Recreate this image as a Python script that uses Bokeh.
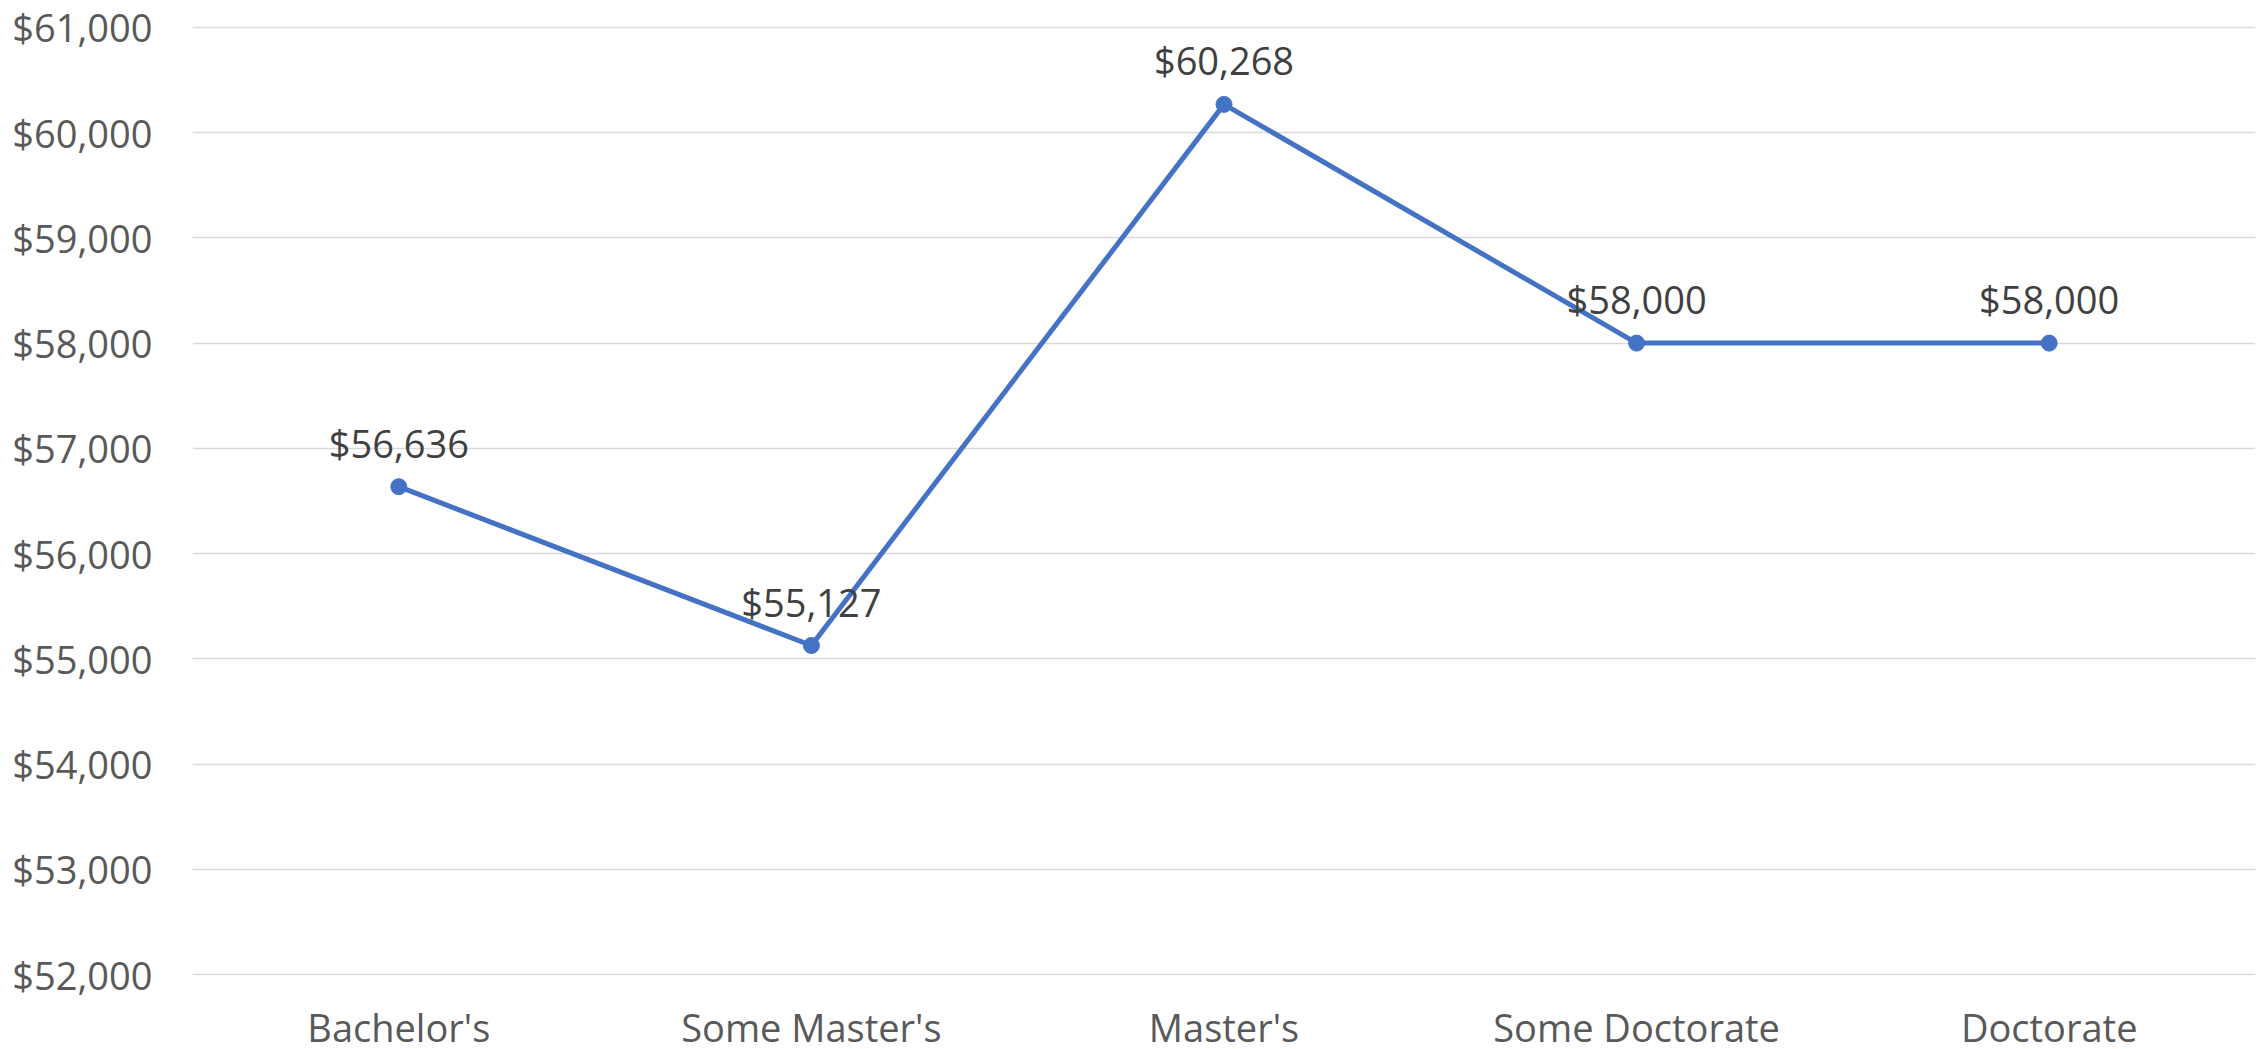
from bokeh.plotting import figure
from bokeh.models import ColumnDataSource, FixedTicker, NumeralTickFormatter, Range1d
from bokeh.core.properties import value
from bokeh.embed import file_html
from bokeh.resources import INLINE

categories = ["Bachelor's", "Some Master's", "Master's", "Some Doctorate", "Doctorate"]
salaries = [56636, 55127, 60268, 58000, 58000]
labels = ["$56,636", "$55,127", "$60,268", "$58,000", "$58,000"]
y_ticks = [52000, 53000, 54000, 55000, 56000, 57000, 58000, 59000, 60000, 61000]

FONT = "Open Sans"
BLUE = "#4472C4"

src = ColumnDataSource(dict(cat=categories, val=salaries, lab=labels))

p = figure(x_range=categories, y_range=Range1d(51992, 61008),
           frame_width=2063, frame_height=949, output_backend="svg", toolbar_location=None,
           min_border_left=192, min_border_right=4, min_border_top=26, min_border_bottom=60)
p.outline_line_color = None
p.background_fill_color = "white"
p.border_fill_color = "white"

p.xgrid.grid_line_color = None
p.ygrid.grid_line_color = "#D9D9D9"
p.ygrid.grid_line_width = 1.3

p.yaxis.ticker = FixedTicker(ticks=y_ticks)
p.yaxis.formatter = NumeralTickFormatter(format="$0,0")
for ax in (p.xaxis, p.yaxis):
    ax.axis_line_color = None
    ax.major_tick_line_color = None
    ax.minor_tick_line_color = None
    ax.major_tick_out = 0
    ax.major_tick_in = 0
    ax.major_label_text_font = FONT
    ax.major_label_text_font_size = "38px"
    ax.major_label_text_color = "#595959"
p.yaxis.major_label_standoff = 40
p.xaxis.major_label_standoff = 25

p.line("cat", "val", source=src, line_color=BLUE, line_width=5)
p.scatter("cat", "val", source=src, size=16, fill_color=BLUE, line_color=BLUE)
p.text("cat", "val", text="lab", source=src, text_font=value(FONT), text_font_size="38px",
       text_color="#404040", text_align="center", text_baseline="alphabetic", y_offset=-44)

open("out.html", "w").write(file_html(p, INLINE))
